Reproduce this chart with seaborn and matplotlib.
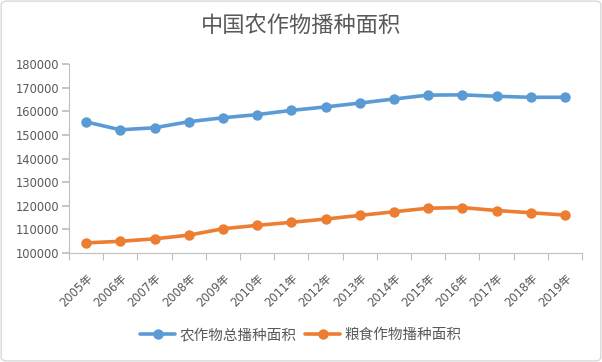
import matplotlib
matplotlib.use("Agg")
import matplotlib.pyplot as plt
import seaborn as sns
import pandas as pd
from matplotlib.patches import FancyBboxPatch

years = ["2005年", "2006年", "2007年", "2008年", "2009年", "2010年", "2011年", "2012年",
         "2013年", "2014年", "2015年", "2016年", "2017年", "2018年", "2019年"]
total_area = [155488, 152149, 153010, 155566, 157242, 158579, 160360, 161827,
              163453, 165183, 166829, 166939, 166332, 165902, 165931]
grain_area = [104278, 104958, 105999, 107545, 110255, 111695, 112980, 114368,
              115908, 117455, 118963, 119230, 117989, 117038, 116064]
series_names = ["农作物总播种面积", "粮食作物播种面积"]
colors = ["#5B9BD5", "#ED7D31"]
yticks = list(range(100000, 180001, 10000))

sns.set_theme(style="white")
plt.rcParams['font.family'] = ['Noto Sans CJK SC', 'DejaVu Sans']
num_font = ['DejaVu Sans', 'Noto Sans CJK SC']

df = pd.DataFrame({
    "year": years * 2,
    "value": total_area + grain_area,
    "series": [series_names[0]] * len(years) + [series_names[1]] * len(years),
})

fig = plt.figure(figsize=(6.02, 3.62), dpi=100)
ax = fig.add_axes([69/602, 1-253/362, (582-69)/602, (253-64)/362])

sns.lineplot(data=df, x="year", y="value", hue="series", palette=colors,
             marker="o", markersize=7.5, linewidth=2.6, markeredgewidth=0,
             ax=ax, sort=False)

ax.set_xlim(-0.5, len(years) - 0.5)
ax.set_ylim(100000, 180000)
ax.set_yticks(yticks)
ax.set_yticklabels([str(v) for v in yticks], family=num_font, fontsize=8.3)
ax.set_xlabel("")
ax.set_ylabel("")

tc = "#595959"
gc = "#BFBFBF"
for s in ["top", "right"]:
    ax.spines[s].set_visible(False)
ax.spines["left"].set_color(gc)
ax.spines["bottom"].set_color(gc)
ax.spines["left"].set_linewidth(0.8)
ax.spines["bottom"].set_linewidth(0.8)

ax.tick_params(axis="y", which="both", left=True, length=5, color=gc,
               labelcolor=tc, pad=2)
ax.set_xticks(range(len(years)))
ax.set_xticklabels(years, rotation=45, ha="right", rotation_mode="anchor",
                   fontsize=8.3, color=tc, family=num_font)
ax.tick_params(axis="x", which="major", bottom=False, pad=7)
ax.set_xticks([i - 0.5 for i in range(len(years) + 1)], minor=True)
ax.tick_params(axis="x", which="minor", bottom=True, length=5, color=gc, width=0.8)

fig.suptitle("中国农作物播种面积", x=0.5, y=1-25/362, va="center",
             fontsize=16, color=tc, fontweight="light")

handles, labels = ax.get_legend_handles_labels()
ax.legend_.remove()
fig.legend(handles, labels, loc="center", bbox_to_anchor=(0.5, 1-335/362),
           ncol=2, frameon=False, fontsize=10.5, labelcolor=tc,
           handlelength=2.4, handletextpad=0.3, columnspacing=0.6)

border = FancyBboxPatch((0.002, 0.003), 0.996, 0.994, boxstyle="round,pad=0,rounding_size=0.01",
                        transform=fig.transFigure, fill=False, edgecolor="#D9D9D9",
                        linewidth=1)
fig.patches.append(border)

fig.savefig("out.png", dpi=100)
